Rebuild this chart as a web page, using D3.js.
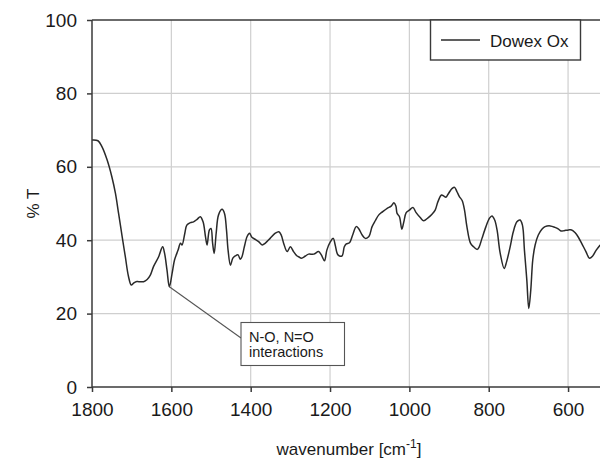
<!DOCTYPE html>
<html>
<head>
<meta charset="utf-8">
<script src="https://cdn.jsdelivr.net/npm/d3@7"></script>
<style>
  html, body { margin: 0; padding: 0; background: #fff; }
  svg { display: block; font-family: "Liberation Sans", Arial, sans-serif; }
</style>
</head>
<body>
<svg id="chart" width="600" height="459"></svg>
<script>
// FTIR transmission spectrum of Dowex Ox (wavenumber in cm^-1, transmission in %)
const wavenumber = [
  1800, 1785, 1775, 1762, 1750, 1741, 1733, 1724, 1716, 1708, 1701, 1695, 1689, 1682,
  1670, 1661, 1653, 1645, 1632, 1622, 1617, 1611, 1605, 1598, 1592, 1583, 1577, 1573,
  1566, 1561, 1552, 1544, 1535, 1527, 1520, 1514, 1510, 1504, 1500, 1496, 1492, 1487,
  1481, 1472, 1466, 1461, 1457, 1451, 1445, 1439, 1432, 1426, 1422, 1416, 1409, 1403,
  1397, 1388, 1380, 1371, 1363, 1351, 1338, 1329, 1323, 1317, 1308, 1300, 1292, 1283,
  1279, 1272, 1262, 1254, 1241, 1229, 1222, 1214, 1208, 1199, 1192, 1187, 1180, 1170,
  1164, 1159, 1151, 1143, 1134, 1128, 1119, 1111, 1102, 1094, 1086, 1077, 1067, 1056,
  1046, 1039, 1034, 1031, 1025, 1019, 1014, 1008, 1000, 991, 983, 972, 964, 953,
  943, 935, 928, 919, 913, 908, 901, 892, 886, 880, 874, 867, 861, 855,
  846, 838, 829, 824, 817, 807, 798, 792, 785, 779, 771, 761, 755, 746,
  738, 729, 721, 715, 710, 704, 699, 694, 689, 683, 675, 666, 658, 645,
  633, 624, 618, 610, 599, 591, 582, 574, 566, 555, 546, 538, 529, 519
];
const transmission = [
  67.3, 67.1, 65.5, 61.9, 57.3, 52.8, 47.3, 41.0, 35.5, 30.1, 27.8, 28.3, 28.7, 28.7,
  28.7, 29.3, 30.5, 32.8, 35.5, 38.2, 36.4, 31.9, 27.3, 31.0, 34.6, 37.3, 39.2, 38.7,
  41.9, 44.1, 44.8, 45.0, 45.7, 46.4, 45.0, 41.0, 38.7, 42.8, 43.2, 39.2, 36.4, 41.9,
  46.9, 48.4, 47.3, 42.8, 37.3, 33.2, 35.1, 35.7, 36.0, 34.8, 35.5, 38.2, 41.0, 41.9,
  40.8, 40.2, 39.6, 38.7, 39.2, 40.5, 41.9, 42.3, 41.4, 39.2, 36.9, 38.2, 36.9, 35.7,
  35.5, 35.1, 35.7, 36.2, 36.2, 36.9, 36.0, 34.4, 37.3, 39.6, 40.5, 38.7, 36.0, 35.7,
  38.2, 39.0, 39.3, 41.4, 43.7, 43.2, 41.4, 40.5, 41.0, 43.7, 45.3, 46.9, 47.8, 48.7,
  49.3, 50.2, 49.3, 47.3, 46.4, 43.0, 45.0, 47.5, 48.2, 48.9, 47.5, 46.1, 45.3, 46.1,
  47.1, 48.2, 50.5, 52.3, 52.0, 51.7, 52.8, 54.1, 54.4, 53.2, 51.9, 50.8, 48.2, 43.7,
  39.2, 38.2, 37.5, 38.2, 40.5, 43.7, 46.0, 46.6, 45.5, 42.8, 36.4, 32.3, 34.1, 38.2,
  42.3, 45.0, 45.5, 44.1, 37.3, 29.2, 21.4, 26.4, 34.6, 38.7, 41.4, 43.0, 43.7, 43.9,
  43.5, 43.0, 42.5, 42.6, 42.8, 42.8, 42.0, 40.8, 39.2, 36.9, 35.1, 35.7, 37.3, 38.7
];
const xTicks = [1800, 1600, 1400, 1200, 1000, 800, 600];
const yTicks = [0, 20, 40, 60, 80, 100];
const seriesName = "Dowex Ox";
const noteLines = ["N-O, N=O", "interactions"];
const noteAt = 1605;  // band the callout points to

(function draw() {
  const svg = d3.select("#chart");
  const m = { left: 92, right: 600, top: 20, bottom: 387 };

  const x = d3.scaleLinear().domain([1800, 519.5]).range([m.left, m.right]);
  const y = d3.scaleLinear().domain([0, 100]).range([m.bottom, m.top]);

  const axisColor = "#3a3a3a";
  const gridColor = "#cfcfcf";

  // grid
  const grid = svg.append("g");
  grid.selectAll("line.gx").data(xTicks.filter(d => d !== 1800)).join("line")
    .attr("class", "gx")
    .attr("x1", d => x(d)).attr("x2", d => x(d))
    .attr("y1", m.top).attr("y2", m.bottom)
    .attr("stroke", gridColor).attr("stroke-width", 1.2);
  grid.selectAll("line.gy").data(yTicks.filter(d => d !== 0 && d !== 100)).join("line")
    .attr("class", "gy")
    .attr("x1", m.left).attr("x2", m.right)
    .attr("y1", d => y(d)).attr("y2", d => y(d))
    .attr("stroke", gridColor).attr("stroke-width", 1.2);

  // spectrum
  const pts = wavenumber.map((w, i) => [w, transmission[i]]);
  const line = d3.line()
    .x(d => x(d[0])).y(d => y(d[1]))
    .curve(d3.curveCatmullRom.alpha(0.5));
  svg.append("path").datum(pts)
    .attr("d", line)
    .attr("fill", "none")
    .attr("stroke", "#2a2a2a")
    .attr("stroke-width", 1.5)
    .attr("stroke-linejoin", "round");

  // axes
  const xAxis = d3.axisBottom(x).tickValues(xTicks).tickSize(5).tickPadding(11)
    .tickFormat(d3.format("d"));
  const yAxis = d3.axisLeft(y).tickValues(yTicks).tickSize(5).tickPadding(10);

  const gx = svg.append("g").attr("transform", `translate(0,${m.bottom})`).call(xAxis);
  const gy = svg.append("g").attr("transform", `translate(${m.left},0)`).call(yAxis);
  [gx, gy].forEach(g => {
    g.select(".domain").attr("stroke", axisColor).attr("stroke-width", 1.5);
    g.selectAll(".tick line").attr("stroke", axisColor).attr("stroke-width", 1.5);
    g.selectAll(".tick text").attr("fill", "#1a1a1a")
      .style("font-size", "19px")
      .style("font-family", "'Liberation Sans', Arial, sans-serif");
  });
  gy.select(".domain").attr("d", `M0,${m.bottom}V${m.top}`);
  gx.select(".domain").attr("d", `M${m.left},0H${m.right}`);

  // top frame
  svg.append("line")
    .attr("x1", m.left).attr("x2", m.right).attr("y1", m.top).attr("y2", m.top)
    .attr("stroke", axisColor).attr("stroke-width", 1.5);

  // axis titles
  const xt = svg.append("text")
    .attr("x", 349).attr("y", 455)
    .attr("text-anchor", "middle")
    .attr("fill", "#1a1a1a")
    .style("font-size", "17px");
  xt.append("tspan").text("wavenumber [cm");
  xt.append("tspan").text("-1").attr("dy", -7).style("font-size", "12px");
  xt.append("tspan").text("]").attr("dy", 7);

  svg.append("text")
    .attr("transform", `translate(39,${(m.top + m.bottom) / 2}) rotate(-90)`)
    .attr("text-anchor", "middle")
    .attr("fill", "#1a1a1a")
    .style("font-size", "17px")
    .text("% T");

  // legend
  const lg = svg.append("g");
  lg.append("rect")
    .attr("x", 430.5).attr("y", m.top).attr("width", 150).attr("height", 40)
    .attr("fill", "#fff").attr("stroke", axisColor).attr("stroke-width", 1.4);
  lg.append("line")
    .attr("x1", 441).attr("x2", 480).attr("y1", 40).attr("y2", 40)
    .attr("stroke", "#2a2a2a").attr("stroke-width", 1.5);
  lg.append("text")
    .attr("x", 490).attr("y", 46.5)
    .attr("fill", "#1a1a1a")
    .style("font-size", "17px")
    .text(seriesName);

  // callout
  const iNote = wavenumber.indexOf(noteAt);
  const ax = x(noteAt), ay = y(transmission[iNote]);
  const box = { x: 241, y: 322.5, w: 103.5, h: 43 };
  svg.append("line")
    .attr("x1", ax).attr("y1", ay)
    .attr("x2", box.x).attr("y2", 338)
    .attr("stroke", "#555").attr("stroke-width", 1.1);
  svg.append("rect")
    .attr("x", box.x).attr("y", box.y).attr("width", box.w).attr("height", box.h)
    .attr("fill", "#fff").attr("stroke", "#555").attr("stroke-width", 1.1);
  svg.append("text")
    .attr("y", 341.5)
    .attr("fill", "#1a1a1a")
    .style("font-size", "14.5px")
    .selectAll("tspan").data(noteLines).join("tspan")
    .attr("x", box.x + 8)
    .attr("dy", (d, i) => i === 0 ? 0 : 15)
    .text(d => d);
})();
</script>
</body>
</html>
